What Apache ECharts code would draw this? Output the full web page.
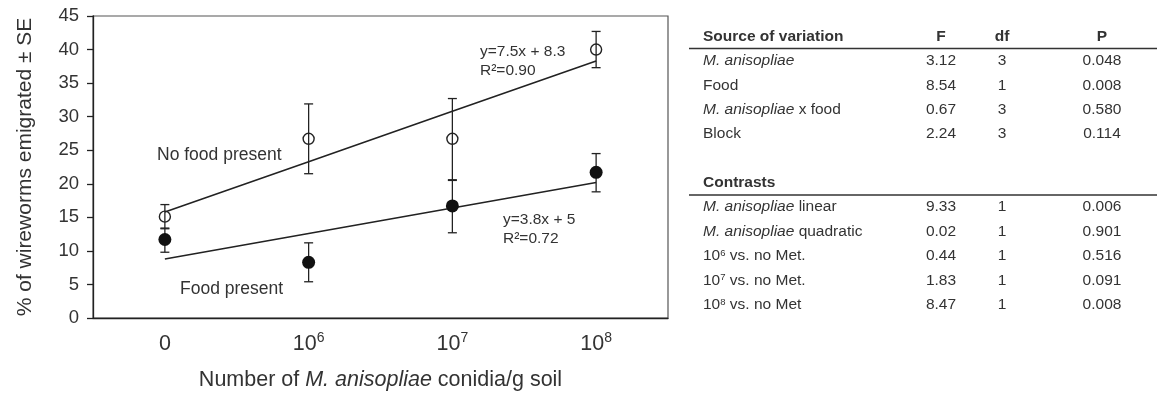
<!DOCTYPE html>
<html><head><meta charset="utf-8">
<script src="https://cdn.jsdelivr.net/npm/echarts@6/dist/echarts.min.js"></script>
<style>html,body{margin:0;padding:0;background:#fff}#c{width:1157px;height:396px}</style>
</head><body><div id="c"></div>
<script>
// ---- chart data ----
const categories = ['0', '10^6', '10^7', '10^8'];
const noFoodMean = [15.1, 26.7, 26.7, 40.0];
const noFoodLow  = [13.3, 21.5, 20.5, 37.3];
const noFoodHigh = [16.9, 31.9, 32.7, 42.7];
const foodMean = [11.7, 8.3, 16.7, 21.7];
const foodLow  = [9.8, 5.4, 12.7, 18.8];
const foodHigh = [13.4, 11.2, 20.6, 24.5];
const noFoodFit = [15.8, 23.3, 30.8, 38.3];
const foodFit   = [8.8, 12.6, 16.4, 20.2];
// ---- table data ----
const tableHeader = ['Source of variation', 'F', 'df', 'P'];
const anovaSources = ['{i|M. anisopliae}', 'Food', '{i|M. anisopliae} x food', 'Block'];
const anovaF  = ['3.12', '8.54', '0.67', '2.24'];
const anovaDf = ['3', '1', '3', '3'];
const anovaP  = ['0.048', '0.008', '0.580', '0.114'];
const contrastTitle = 'Contrasts';
const contrastNames = ['{i|M. anisopliae} linear', '{i|M. anisopliae} quadratic', '10{s|6} vs. no Met.', '10{s|7} vs. no Met.', '10{s|8} vs. no Met'];
const contrastF  = ['9.33', '0.02', '0.44', '1.83', '8.47'];
const contrastDf = ['1', '1', '1', '1', '1'];
const contrastP  = ['0.006', '0.901', '0.516', '0.091', '0.008'];

const FONT = "'Liberation Sans', Arial, sans-serif";
const TXT = '#333';
const LINE = '#222';
const TFS = 15.5;

function errSeries(low, high) {
  return {
    type: 'custom', z: 3,
    data: low.map((l, i) => [i, l, high[i]]),
    encode: { x: 0, y: [1, 2] },
    renderItem(params, api) {
      const x = api.value(0);
      const a = api.coord([x, api.value(1)]);
      const b = api.coord([x, api.value(2)]);
      const w = 4.5;
      const st = { stroke: LINE, lineWidth: 1.3 };
      return { type: 'group', children: [
        { type: 'line', shape: { x1: a[0], y1: a[1], x2: b[0], y2: b[1] }, style: st },
        { type: 'line', shape: { x1: a[0] - w, y1: a[1], x2: a[0] + w, y2: a[1] }, style: st },
        { type: 'line', shape: { x1: b[0] - w, y1: b[1], x2: b[0] + w, y2: b[1] }, style: st }
      ]};
    }
  };
}

const tableRich = {
  i: { fontStyle: 'italic', fontSize: TFS, fontFamily: FONT, fill: TXT, color: TXT },
  s: { fontSize: 9.5, fontFamily: FONT, verticalAlign: 'top', lineHeight: 14, color: TXT, fill: TXT }
};
function tText(x, y, text, align, bold) {
  return { type: 'text', x: x, y: y, silent: true, style: {
    text: text, align: align, verticalAlign: 'middle', fill: TXT,
    fontSize: TFS, fontFamily: FONT, fontWeight: bold ? 'bold' : 'normal', rich: tableRich
  }};
}
const colX = [703, 941, 1002, 1102];
const graphics = [];
graphics.push(tText(colX[0], 37, tableHeader[0], 'left', true));
graphics.push(tText(colX[1], 37, tableHeader[1], 'center', true));
graphics.push(tText(colX[2], 37, tableHeader[2], 'center', true));
graphics.push(tText(colX[3], 37, tableHeader[3], 'center', true));
graphics.push({ type: 'line', shape: { x1: 689, y1: 48.5, x2: 1157, y2: 48.5 }, style: { stroke: '#333', lineWidth: 1.6 } });
const anovaY = [61, 85.5, 109.5, 133.5];
anovaSources.forEach((s, k) => {
  graphics.push(tText(colX[0], anovaY[k], s, 'left'));
  graphics.push(tText(colX[1], anovaY[k], anovaF[k], 'center'));
  graphics.push(tText(colX[2], anovaY[k], anovaDf[k], 'center'));
  graphics.push(tText(colX[3], anovaY[k], anovaP[k], 'center'));
});
graphics.push(tText(colX[0], 183, contrastTitle, 'left', true));
graphics.push({ type: 'line', shape: { x1: 689, y1: 195, x2: 1157, y2: 195 }, style: { stroke: '#333', lineWidth: 1.6 } });
const contrastY = [207, 231.5, 256, 280.5, 305];
contrastNames.forEach((s, k) => {
  graphics.push(tText(colX[0], contrastY[k], s, 'left'));
  graphics.push(tText(colX[1], contrastY[k], contrastF[k], 'center'));
  graphics.push(tText(colX[2], contrastY[k], contrastDf[k], 'center'));
  graphics.push(tText(colX[3], contrastY[k], contrastP[k], 'center'));
});
// annotations
function note(x, y, text, size) {
  return { type: 'text', x: x, y: y, silent: true, style: {
    text: text, align: 'left', verticalAlign: 'middle', fill: TXT, fontSize: size, fontFamily: FONT }};
}
graphics.push(note(157, 155, 'No food present', 17.5));
graphics.push(note(180, 289, 'Food present', 17.5));
graphics.push(note(480, 52, 'y=7.5x + 8.3', 15.5));
graphics.push(note(480, 71, 'R²=0.90', 15.5));
graphics.push(note(503, 220, 'y=3.8x + 5', 15.5));
graphics.push(note(503, 239, 'R²=0.72', 15.5));

const chart = echarts.init(document.getElementById('c'));
chart.setOption({
  animation: false,
  backgroundColor: '#fff',
  textStyle: { fontFamily: FONT },
  grid: { left: 93, right: 489, top: 16, bottom: 76, show: true, borderColor: '#555', borderWidth: 1.2 },
  xAxis: {
    type: 'category', data: categories, boundaryGap: true,
    axisLine: { lineStyle: { color: LINE, width: 1.3 } },
    axisTick: { show: false },
    axisLabel: {
      margin: 13, color: TXT,
      formatter: v => v.indexOf('^') >= 0 ? '{b|' + v.split('^')[0] + '}{s|' + v.split('^')[1] + '}' : '{b|' + v + '}',
      rich: {
        b: { fontSize: 21.5, fontFamily: FONT, color: TXT, lineHeight: 26 },
        s: { fontSize: 14, fontFamily: FONT, color: TXT, verticalAlign: 'top', lineHeight: 14 }
      }
    },
    name: 'Number of {i|M. anisopliae} conidia/g soil',
    nameLocation: 'middle', nameGap: 51,
    nameTextStyle: { fontSize: 21.5, color: TXT, fontFamily: FONT,
      rich: { i: { fontSize: 21.5, fontStyle: 'italic', color: TXT, fontFamily: FONT } } }
  },
  yAxis: {
    type: 'value', min: 0, max: 45, interval: 5,
    axisLine: { show: true, lineStyle: { color: LINE, width: 1.3 } },
    axisTick: { show: true, length: 6, lineStyle: { color: LINE, width: 1.3 } },
    axisLabel: { fontSize: 18.5, color: TXT, margin: 14, fontFamily: FONT },
    splitLine: { show: false },
    name: '% of wireworms emigrated ± SE',
    nameLocation: 'middle', nameGap: 57,
    nameTextStyle: { fontSize: 21, color: TXT, fontFamily: FONT }
  },
  series: [
    { type: 'line', data: noFoodFit, symbol: 'none', lineStyle: { color: LINE, width: 1.6 }, z: 2 },
    { type: 'line', data: foodFit, symbol: 'none', lineStyle: { color: LINE, width: 1.6 }, z: 2 },
    errSeries(noFoodLow, noFoodHigh),
    errSeries(foodLow, foodHigh),
    { type: 'scatter', data: noFoodMean, symbol: 'circle', symbolSize: 11, z: 4,
      itemStyle: { color: 'rgba(0,0,0,0)', borderColor: LINE, borderWidth: 1.4, opacity: 1 } },
    { type: 'scatter', data: foodMean, symbol: 'circle', symbolSize: 13, z: 4,
      itemStyle: { color: '#111', opacity: 1 } }
  ],
  graphic: graphics
});
</script></body></html>
